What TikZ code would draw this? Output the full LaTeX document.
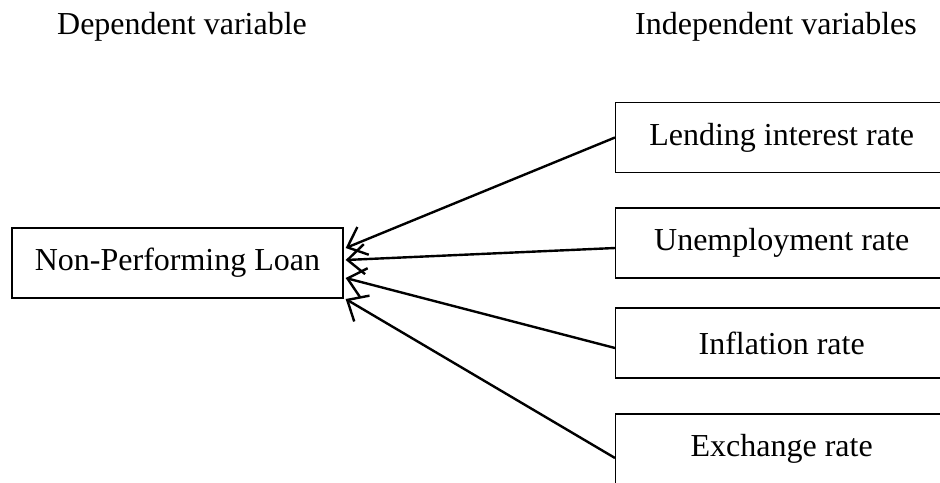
\documentclass[tikz,border=0pt]{standalone}
\usepackage{fontspec}
\setmainfont{Liberation Serif}
\usetikzlibrary{arrows.meta, positioning}

\begin{document}
\begin{tikzpicture}[
  x=0.5pt, y=-0.5pt,
  font=\fontsize{16}{19}\selectfont,
  varbox/.style={rectangle, draw=black, fill=white, line width=0.65pt,
    minimum height=35pt, align=center},
  head/.style={anchor=base},
  arr/.style={{Straight Barb[length=8.5pt, width=15pt]}-, black, line width=1.2pt}
]
\useasboundingbox (0,0) rectangle (940,482);
\clip (0,0) rectangle (940,482);

% column headings
\node[head] (dephead) at (182,34) {Dependent variable};
\node[head] (indhead) at (776,34) {Independent variables};

% dependent variable
\node[varbox, minimum width=165.5pt] (loan) at (177.5,263) {Non-Performing Loan};

% independent variables
\node[varbox, minimum width=166pt, anchor=west] (lend) at (615,137.5) {Lending interest rate};
\node[varbox, minimum width=166pt, anchor=west] (unemp) at (615,243) {Unemployment rate};
\node[varbox, minimum width=166pt, anchor=west] (infl) at (615,343) {Inflation rate};
\node[varbox, minimum width=166pt, anchor=west] (exch) at (615,449) {Exchange rate};

\draw[arr] ([xshift=1pt, yshift=7.5pt]loan.east) -- (lend.west);
\draw[arr] ([xshift=1pt, yshift=1.5pt]loan.east) -- ([yshift=-2.5pt]unemp.west);
\draw[arr] ([xshift=1pt, yshift=-7.5pt]loan.east) -- ([yshift=-2.5pt]infl.west);
\draw[arr] ([xshift=1pt, yshift=-18pt]loan.east) -- ([yshift=-4.5pt]exch.west);

\end{tikzpicture}
\end{document}
